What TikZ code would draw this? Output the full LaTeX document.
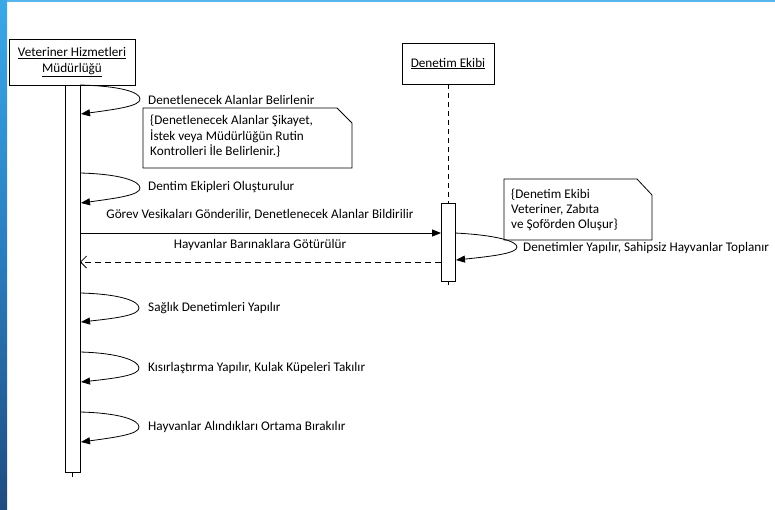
\documentclass[tikz,border=0pt]{standalone}
\usepackage{fontspec}
\setmainfont{Carlito}
\usetikzlibrary{arrows.meta,shapes.misc,calc}
\definecolor{bluetop}{HTML}{3AA8E8}
\definecolor{bluemid}{HTML}{2A7DBE}
\definecolor{bluebot}{HTML}{1F4C80}
\tikzset{
  life/.style={draw,line width=0.8pt,fill=white,align=center,inner sep=0pt},
  actbar/.style={draw,line width=0.8pt,fill=white,inner sep=0pt},
  lbl/.style={font=\fontsize{13.2}{15}\selectfont,inner sep=0pt,anchor=west},
  clbl/.style={font=\fontsize{13.2}{15}\selectfont,inner sep=0pt},
  msg/.style={line width=0.8pt,-{Triangle[length=9pt,width=7pt]}},
  selfmsg/.style={line width=0.8pt,-{Triangle[length=9pt,width=7pt]}},
  retmsg/.style={line width=0.8pt,dash pattern=on 6pt off 4pt,-{Straight Barb[length=6pt,width=12pt]}},
  notebox/.style={line width=0.8pt,fill=white},
  notetxt/.style={font=\fontsize{13.2}{15.5}\selectfont,align=left,inner sep=0pt,anchor=north west},
}
\begin{document}
\begin{tikzpicture}[x=1pt,y=-1pt]
\useasboundingbox (0,0) rectangle (775,509);
\fill[white] (0,0) rectangle (775,509);
% blue frame
\shade[top color=bluetop,bottom color=bluebot,middle color=bluemid] (0,0) rectangle (7,509);
\fill[bluetop!85!white] (7,0) rectangle (775,1.5);

% left lifeline
\node[life,minimum width=126pt,minimum height=46pt,font=\fontsize{13.2}{16}\selectfont] (vhm) at (72,62) {\underline{Veteriner Hizmetleri}\\\underline{Müdürlüğü}};
\node[actbar,minimum width=15pt,minimum height=387pt,anchor=north] (act1) at (72.5,85) {};
\coordinate (act1end) at (72.5,477);
\draw[line width=0.8pt] (act1.south) -- (act1end);

% right lifeline
\node[life,minimum width=92pt,minimum height=41pt,font=\fontsize{13.2}{15}\selectfont] (dek) at (448,63.5) {\underline{Denetim Ekibi}};
\node[actbar,minimum width=14pt,minimum height=78pt,anchor=north] (act2) at (448,203) {};
\coordinate (act2end) at (448,285);
\draw[line width=0.8pt,dash pattern=on 5pt off 4pt] (dek.south) -- (act2.north);
\draw[line width=0.8pt] (act2.south) -- (act2end);

% self messages on left
\draw[selfmsg] (80,85) .. controls (120,86) and (140,92) .. (140,99) .. controls (140,106) and (118,109) .. (81,114);
\node[lbl] (m1) at (148,100) {Denetlenecek Alanlar Belirlenir};

% note 1
\draw[notebox] (143,108) -- (337,108) -- (352,123) -- (352,168) -- (143,168) -- cycle;
\node[notetxt] (n1) at (150,115) {\{Denetlenecek Alanlar Şikayet,\\İstek veya Müdürlüğün Rutin\\Kontrolleri İle Belirlenir.\}};

\draw[selfmsg] (80,173) .. controls (120,174) and (140,181) .. (140,188) .. controls (140,195) and (118,198) .. (81,203);
\node[lbl] (m2) at (148,187) {Dentim Ekipleri Oluşturulur};

% message to right
\coordinate (g1) at (80,233);
\coordinate (g2) at (441,233);
\draw[msg] (g1) -- (g2);
\node[clbl] (m3) at (260,215) {Görev Vesikaları Gönderilir, Denetlenecek Alanlar Bildirilir};

% return message
\coordinate (h1) at (441,262);
\coordinate (h2) at (80,262);
\draw[retmsg] (h1) -- (h2);
\node[clbl] (m4) at (260,245) {Hayvanlar Barınaklara Götürülür};

% note 2
\draw[notebox] (504,179) -- (637,179) -- (652,195) -- (652,240) -- (504,240) -- cycle;
\node[notetxt,font=\fontsize{13.2}{14.8}\selectfont] (n2) at (511,189) {\{Denetim Ekibi\\Veteriner, Zabıta\\ve Şoförden Oluşur\}};

% right self message
\draw[selfmsg] (455,233) .. controls (495,235) and (517,241) .. (517,247) .. controls (517,253) and (495,256) .. (456,260);
\node[lbl] (m5) at (523,248) {Denetimler Yapılır, Sahipsiz Hayvanlar Toplanır};

% lower self messages
\draw[selfmsg] (80,293) .. controls (120,294) and (139,301) .. (139,308) .. controls (139,315) and (118,318) .. (81,322);
\node[lbl] (m6) at (148,308) {Sağlık Denetimleri Yapılır};

\draw[selfmsg] (80,352) .. controls (120,353) and (139,361) .. (139,368) .. controls (139,375) and (118,378) .. (81,382);
\node[lbl] (m7) at (148,368) {Kısırlaştırma Yapılır, Kulak Küpeleri Takılır};

\draw[selfmsg] (80,412) .. controls (120,413) and (139,420) .. (139,427) .. controls (139,434) and (118,437) .. (81,442);
\node[lbl] (m8) at (148,427) {Hayvanlar Alındıkları Ortama Bırakılır};
\end{tikzpicture}
\end{document}
